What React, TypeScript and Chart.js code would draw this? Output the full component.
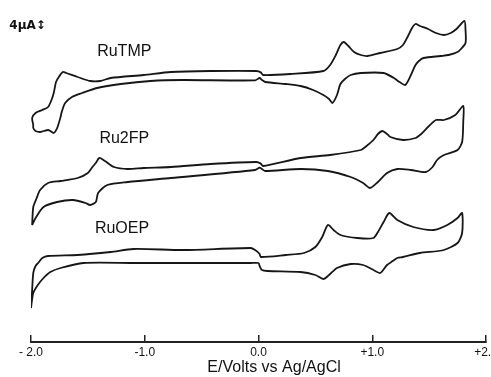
import React, { useEffect, useRef } from 'react';
import { Chart, registerables } from 'chart.js';

Chart.register(...registerables);

// ---- axis text ----
const tickValues = [-2, -1, 0, 1, 2];
const tickLabels = ['- 2.0', '-1.0', '0.0', '+1.0', '+2.0'];
const axisTitle = 'E/Volts vs Ag/AgCl';
const traceNames = ['RuTMP', 'Ru2FP', 'RuOEP'];
const scaleBarLabel = '4\u03bcA\u2195';

// ---- RuTMP voltammogram (E in V, current in µA incl. vertical offset) ----
const ruTMP_E = [
  -1.98, -1.99, -1.96, -1.9, -1.85, -1.82, -1.8, -1.78, -1.75, -1.72, -1.69, -1.59, -1.48, -1.39, -1.3, -1.01,
  -0.77, -0.42, -0.02, 0.02, 0.04, 0.28, 0.57, 0.63, 0.68, 0.72, 0.75, 0.79, 0.84, 0.9, 0.96, 1.07, 1.22, 1.27,
  1.31, 1.35, 1.38, 1.42, 1.49, 1.56, 1.63, 1.69, 1.74, 1.81, 1.82, 1.82, 1.78, 1.75, 1.67, 1.6, 1.45, 1.41,
  1.38, 1.34, 1.29, 1.24, 1.19, 1.1, 0.9, 0.81, 0.76, 0.72, 0.69, 0.65, 0.62, 0.57, 0.48, 0.37, 0.24, 0.06,
  0.03, 0.01, -0.03, -0.67, -0.95, -1.21, -1.42, -1.55, -1.64, -1.7, -1.73, -1.74, -1.77, -1.8, -1.83, -1.85,
  -1.89, -1.92, -1.96, -1.98, -1.98,
];
const ruTMP_I = [
  54.25, 56, 57.25, 58, 58.75, 60.5, 62.25, 65, 66.5, 67.5, 67.25, 66.25, 65.25, 65.25, 66, 66.75,
  67.5, 67.75, 67.75, 67.4, 66.75, 67, 67.75, 69.25, 71.75, 74.25, 75, 74, 72.5, 71.75, 71.5, 72.25, 73.25, 74.25,
  76.25, 78.5, 79.5, 79, 78.25, 77.25, 76.75, 77.25, 78.25, 80.25, 78, 74.75, 73.25, 72.5, 71.75, 71.5, 71, 70.25,
  69.25, 66.75, 64.25, 65, 66, 67.25, 67.25, 66.75, 65.75, 64.5, 61.75, 59.75, 60.75, 61.75, 63, 64, 64.5, 65,
  65.5, 66, 65.4, 65.5, 65.25, 64.5, 63.5, 62.25, 61.25, 59.75, 57.5, 56.25, 53.5, 52.25, 52.75, 53,
  52.75, 52.5, 52.75, 53.5, 54.25,
];

// ---- Ru2FP voltammogram ----
const ru2FP_E = [
  -1.99, -1.98, -1.95, -1.92, -1.85, -1.74, -1.59, -1.5, -1.46, -1.43, -1.4, -1.35, -1.27, -1.15, -1.01, -0.77,
  -0.42, -0.02, 0.02, 0.04, 0.37, 0.63, 0.9, 0.95, 1.01, 1.05, 1.09, 1.13, 1.16, 1.27, 1.38, 1.43, 1.49, 1.56,
  1.63, 1.73, 1.8, 1.8, 1.79, 1.75, 1.63, 1.57, 1.53, 1.47, 1.34, 1.22, 1.13, 1.05, 0.98, 0.92, 0.81, 0.61,
  0.37, 0.06, 0.03, 0.01, -0.03, -0.77, -1.15, -1.33, -1.41, -1.43, -1.48, -1.52, -1.63, -1.77, -1.89, -1.96,
  -1.99,
];
const ru2FP_I = [
  29.25, 33.75, 36, 38, 39.75, 40.25, 41, 42.25, 43.75, 44.75, 46, 45.25, 43.75, 43.25, 43.5, 43.75,
  44.5, 45, 44.6, 44, 46, 46.75, 48, 49, 50.5, 52, 52.75, 52, 51.25, 50.5, 51, 52, 53.75, 55.5,
  55.5, 56.75, 59, 55, 50, 48, 46.75, 45.5, 43.75, 42.5, 43, 43.25, 42.25, 40, 38.5, 39.75, 41.25, 42.75,
  43.25, 42.75, 43.25, 43.6, 43, 41, 40, 39.25, 37.25, 35, 34.25, 34.75, 35.5, 35, 33.75, 31,
  29.25,
];

// ---- RuOEP voltammogram ----
const ruOEP_E = [
  -2.0, -1.99, -1.98, -1.96, -1.93, -1.9, -1.85, -1.59, -1.3, -1.1, -0.66, -0.07, -0.03, 0.01, 0.02, 0.24,
  0.4, 0.5, 0.56, 0.61, 0.66, 0.72, 0.87, 1.01, 1.05, 1.1, 1.15, 1.22, 1.36, 1.54, 1.66, 1.75, 1.79, 1.79,
  1.75, 1.63, 1.42, 1.27, 1.22, 1.18, 1.13, 1.07, 1.01, 0.92, 0.81, 0.69, 0.62, 0.57, 0.5, 0.37, 0.08, 0.03,
  0.01, 0.0, -0.07, -0.77, -1.1, -1.54, -1.74, -1.83, -1.89, -1.94, -1.98, -2.0,
];
const ruOEP_I = [
  8.5, 13, 17.25, 19, 20, 21, 21.5, 21.75, 22.5, 23.25, 23, 23.5, 23, 22, 21.25, 21.75,
  22.25, 23.75, 26.25, 29.25, 28, 26.75, 26, 26, 27.5, 30, 32.25, 30.5, 28.75, 28, 29.25, 31, 32.25, 27.25,
  24.75, 23, 22.25, 21.25, 21, 20.25, 19.25, 17.25, 18, 19.25, 19.5, 18.5, 16.75, 15.75, 16.75, 17.5, 17.75, 18,
  19, 19.75, 19.75, 19.75, 19.75, 19.75, 18.5, 17.5, 16, 14.25, 12.25, 8.5,
];

const toPoints = (e: number[], i: number[]) => e.map((v, k) => ({ x: v, y: i[k] }));

const textLabelsPlugin = {
  id: 'textLabels',
  afterDraw(chart: any, _args: any, opts: any) {
    const { ctx } = chart;
    const xs = chart.scales.x;
    const ys = chart.scales.y;
    ctx.save();
    ctx.textAlign = 'center';
    ctx.textBaseline = 'middle';
    for (const item of opts.items || []) {
      ctx.font = item.font;
      ctx.fillStyle = item.color;
      ctx.fillText(item.text, xs.getPixelForValue(item.e), ys.getPixelForValue(item.i));
    }
    ctx.restore();
  },
};

export default function App() {
  const canvasRef = useRef<HTMLCanvasElement | null>(null);

  useEffect(() => {
    if (!canvasRef.current) return;
    const lineStyle = {
      borderColor: '#161616',
      borderWidth: 1.8,
      pointRadius: 0,
      tension: 0.25,
      fill: false,
    };
    const chart = new Chart(canvasRef.current, {
      type: 'line',
      data: {
        datasets: [
          { label: traceNames[0], data: toPoints(ruTMP_E, ruTMP_I), ...lineStyle },
          { label: traceNames[1], data: toPoints(ru2FP_E, ru2FP_I), ...lineStyle },
          { label: traceNames[2], data: toPoints(ruOEP_E, ruOEP_I), ...lineStyle },
        ],
      },
      options: {
        animation: false,
        responsive: false,
        events: [],
        layout: { padding: { left: 31, right: 5, top: 0, bottom: 0 } },
        plugins: {
          legend: { display: false },
          tooltip: { enabled: false },
          textLabels: {
            items: [
              { text: traceNames[0], e: -1.18, i: 72.6, font: '16px "Liberation Sans", Arial, sans-serif', color: '#111' },
              { text: traceNames[1], e: -1.18, i: 50.9, font: '16px "Liberation Sans", Arial, sans-serif', color: '#111' },
              { text: traceNames[2], e: -1.2, i: 28.4, font: '16px "Liberation Sans", Arial, sans-serif', color: '#111' },
              { text: scaleBarLabel, e: -2.03, i: 79, font: 'bold 12px "DejaVu Sans", sans-serif', color: '#111' },
            ],
          },
        } as any,
        scales: {
          x: {
            type: 'linear',
            min: -2,
            max: 2,
            afterFit: (scale: any) => {
              scale.height = 35;
              scale.paddingLeft = 0;
              scale.paddingRight = 0;
            },
            afterBuildTicks: (scale: any) => {
              scale.ticks = tickValues.map((v) => ({ value: v }));
            },
            ticks: {
              autoSkip: false,
              maxRotation: 0,
              padding: 10,
              color: '#111',
              font: { family: '"Liberation Sans", Arial, sans-serif', size: 12 },
              callback: (v: any) => {
                const k = tickValues.indexOf(Number(v));
                return k >= 0 ? tickLabels[k] : '';
              },
            },
            grid: {
              drawOnChartArea: false,
              drawTicks: true,
              tickLength: -7,
              color: '#222',
              lineWidth: 1.5,
            },
            border: { display: true, color: '#222', width: 2 },
            title: {
              display: true,
              text: '\u00a0'.repeat(7) + axisTitle,
              color: '#111',
              font: { family: '"Liberation Sans", Arial, sans-serif', size: 16 },
              padding: { top: 0, bottom: 0 },
            },
          },
          y: {
            type: 'linear',
            display: false,
            min: 0,
            max: 85.5,
          },
        },
      },
      plugins: [textLabelsPlugin],
    });
    return () => chart.destroy();
  }, []);

  return (
    <div style={{ position: 'fixed', left: 0, top: 0, width: 491, height: 377, background: '#fff' }}>
      <canvas ref={canvasRef} width={491} height={377} style={{ display: 'block' }} />
    </div>
  );
}
